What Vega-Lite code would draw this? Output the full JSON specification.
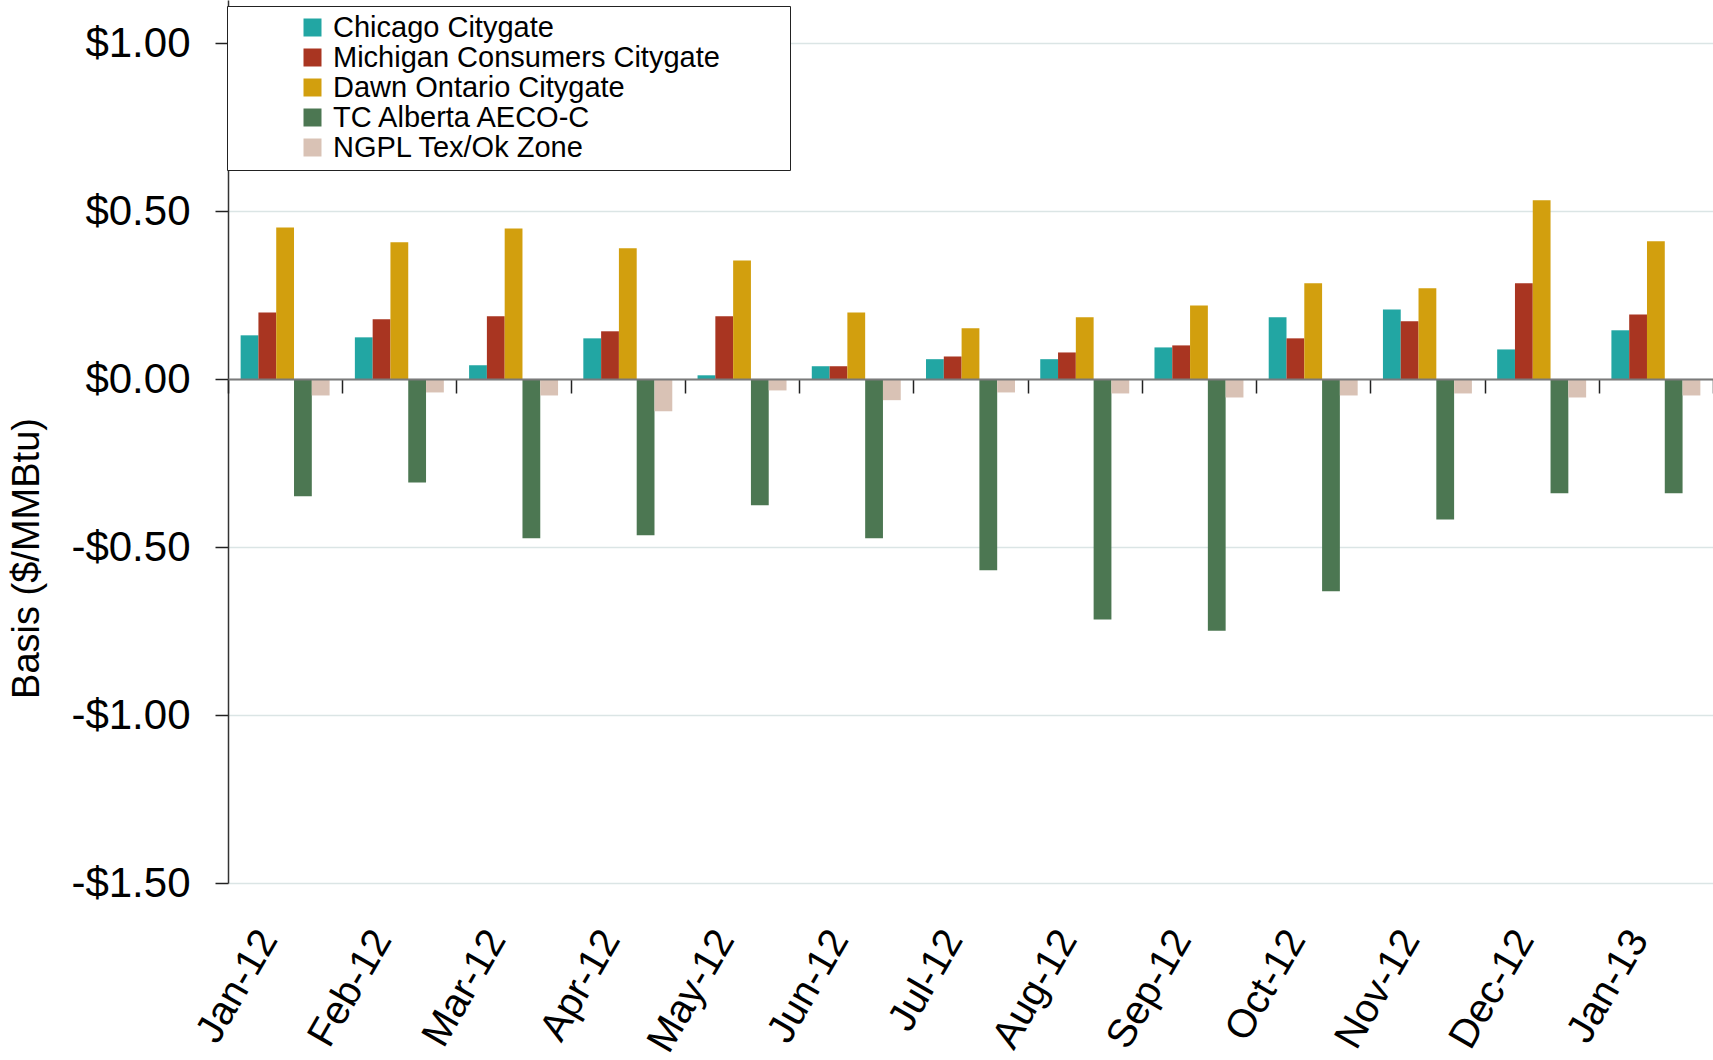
{
  "$schema": "https://vega.github.io/schema/vega-lite/v6.json",
  "autosize": {"type": "none"},
  "width": 1485,
  "height": 883,
  "padding": {"left": 228, "top": 0, "right": 0, "bottom": 177},
  "background": "white",
  "config": {"view": {"stroke": null}, "font": "Liberation Sans"},
  "data": {
    "values": [
      {"month": "Jan-12", "series": "Chicago Citygate", "value": 0.130},
      {"month": "Jan-12", "series": "Michigan Consumers Citygate", "value": 0.198},
      {"month": "Jan-12", "series": "Dawn Ontario Citygate", "value": 0.451},
      {"month": "Jan-12", "series": "TC Alberta AECO-C", "value": -0.349},
      {"month": "Jan-12", "series": "NGPL Tex/Ok Zone", "value": -0.049},
      {"month": "Feb-12", "series": "Chicago Citygate", "value": 0.124},
      {"month": "Feb-12", "series": "Michigan Consumers Citygate", "value": 0.178},
      {"month": "Feb-12", "series": "Dawn Ontario Citygate", "value": 0.407},
      {"month": "Feb-12", "series": "TC Alberta AECO-C", "value": -0.308},
      {"month": "Feb-12", "series": "NGPL Tex/Ok Zone", "value": -0.040},
      {"month": "Mar-12", "series": "Chicago Citygate", "value": 0.041},
      {"month": "Mar-12", "series": "Michigan Consumers Citygate", "value": 0.187},
      {"month": "Mar-12", "series": "Dawn Ontario Citygate", "value": 0.448},
      {"month": "Mar-12", "series": "TC Alberta AECO-C", "value": -0.474},
      {"month": "Mar-12", "series": "NGPL Tex/Ok Zone", "value": -0.049},
      {"month": "Apr-12", "series": "Chicago Citygate", "value": 0.121},
      {"month": "Apr-12", "series": "Michigan Consumers Citygate", "value": 0.142},
      {"month": "Apr-12", "series": "Dawn Ontario Citygate", "value": 0.389},
      {"month": "Apr-12", "series": "TC Alberta AECO-C", "value": -0.465},
      {"month": "Apr-12", "series": "NGPL Tex/Ok Zone", "value": -0.096},
      {"month": "May-12", "series": "Chicago Citygate", "value": 0.011},
      {"month": "May-12", "series": "Michigan Consumers Citygate", "value": 0.187},
      {"month": "May-12", "series": "Dawn Ontario Citygate", "value": 0.353},
      {"month": "May-12", "series": "TC Alberta AECO-C", "value": -0.376},
      {"month": "May-12", "series": "NGPL Tex/Ok Zone", "value": -0.034},
      {"month": "Jun-12", "series": "Chicago Citygate", "value": 0.038},
      {"month": "Jun-12", "series": "Michigan Consumers Citygate", "value": 0.038},
      {"month": "Jun-12", "series": "Dawn Ontario Citygate", "value": 0.198},
      {"month": "Jun-12", "series": "TC Alberta AECO-C", "value": -0.474},
      {"month": "Jun-12", "series": "NGPL Tex/Ok Zone", "value": -0.063},
      {"month": "Jul-12", "series": "Chicago Citygate", "value": 0.059},
      {"month": "Jul-12", "series": "Michigan Consumers Citygate", "value": 0.067},
      {"month": "Jul-12", "series": "Dawn Ontario Citygate", "value": 0.151},
      {"month": "Jul-12", "series": "TC Alberta AECO-C", "value": -0.569},
      {"month": "Jul-12", "series": "NGPL Tex/Ok Zone", "value": -0.040},
      {"month": "Aug-12", "series": "Chicago Citygate", "value": 0.059},
      {"month": "Aug-12", "series": "Michigan Consumers Citygate", "value": 0.079},
      {"month": "Aug-12", "series": "Dawn Ontario Citygate", "value": 0.184},
      {"month": "Aug-12", "series": "TC Alberta AECO-C", "value": -0.716},
      {"month": "Aug-12", "series": "NGPL Tex/Ok Zone", "value": -0.043},
      {"month": "Sep-12", "series": "Chicago Citygate", "value": 0.094},
      {"month": "Sep-12", "series": "Michigan Consumers Citygate", "value": 0.100},
      {"month": "Sep-12", "series": "Dawn Ontario Citygate", "value": 0.219},
      {"month": "Sep-12", "series": "TC Alberta AECO-C", "value": -0.749},
      {"month": "Sep-12", "series": "NGPL Tex/Ok Zone", "value": -0.055},
      {"month": "Oct-12", "series": "Chicago Citygate", "value": 0.184},
      {"month": "Oct-12", "series": "Michigan Consumers Citygate", "value": 0.121},
      {"month": "Oct-12", "series": "Dawn Ontario Citygate", "value": 0.285},
      {"month": "Oct-12", "series": "TC Alberta AECO-C", "value": -0.632},
      {"month": "Oct-12", "series": "NGPL Tex/Ok Zone", "value": -0.049},
      {"month": "Nov-12", "series": "Chicago Citygate", "value": 0.207},
      {"month": "Nov-12", "series": "Michigan Consumers Citygate", "value": 0.172},
      {"month": "Nov-12", "series": "Dawn Ontario Citygate", "value": 0.270},
      {"month": "Nov-12", "series": "TC Alberta AECO-C", "value": -0.418},
      {"month": "Nov-12", "series": "NGPL Tex/Ok Zone", "value": -0.043},
      {"month": "Dec-12", "series": "Chicago Citygate", "value": 0.088},
      {"month": "Dec-12", "series": "Michigan Consumers Citygate", "value": 0.285},
      {"month": "Dec-12", "series": "Dawn Ontario Citygate", "value": 0.532},
      {"month": "Dec-12", "series": "TC Alberta AECO-C", "value": -0.340},
      {"month": "Dec-12", "series": "NGPL Tex/Ok Zone", "value": -0.055},
      {"month": "Jan-13", "series": "Chicago Citygate", "value": 0.145},
      {"month": "Jan-13", "series": "Michigan Consumers Citygate", "value": 0.192},
      {"month": "Jan-13", "series": "Dawn Ontario Citygate", "value": 0.410},
      {"month": "Jan-13", "series": "TC Alberta AECO-C", "value": -0.340},
      {"month": "Jan-13", "series": "NGPL Tex/Ok Zone", "value": -0.049}
    ]
  },
  "resolve": {"axis": {"x": "independent"}},
  "layer": [
    {
      "mark": {"type": "bar"},
      "encoding": {
        "x": {
          "field": "month",
          "type": "ordinal",
          "sort": ["Jan-12","Feb-12","Mar-12","Apr-12","May-12","Jun-12","Jul-12","Aug-12","Sep-12","Oct-12","Nov-12","Dec-12","Jan-13"],
          "scale": {"paddingInner": 0, "paddingOuter": 0},
          "axis": {
            "title": null,
            "domain": false,
            "ticks": false,
            "labelAngle": -60,
            "labelAlign": "right",
            "labelBaseline": "middle",
            "labelPadding": 50,
            "labelOffset": -17,
            "labelFontSize": 40,
            "labelFont": "Liberation Sans",
            "labelColor": "#000000"
          }
        },
        "xOffset": {
          "field": "series",
          "type": "nominal",
          "sort": ["Chicago Citygate","Michigan Consumers Citygate","Dawn Ontario Citygate","TC Alberta AECO-C","NGPL Tex/Ok Zone"],
          "scale": {"paddingInner": 0, "paddingOuter": 0.71}
        },
        "y": {
          "field": "value",
          "type": "quantitative",
          "scale": {"domain": [-1.5, 1.128], "nice": false, "zero": false},
          "axis": {
            "title": "Basis ($/MMBtu)",
            "titleFont": "Liberation Sans",
            "titleFontSize": 38,
            "titleFontWeight": "normal",
            "titleColor": "#000000",
            "titleAngle": -90,
            "titleAlign": "center",
            "titleBaseline": "middle",
            "titleX": -201,
            "titleY": 558,
            "values": [-1.5, -1, -0.5, 0, 0.5, 1],
            "labelExpr": "(datum.value < 0 ? '-' : '') + '$' + format(abs(datum.value), '.2f')",
            "labelFont": "Liberation Sans",
            "labelFontSize": 42,
            "labelColor": "#000000",
            "labelPadding": 25,
            "tickSize": 13,
            "tickColor": "#222222",
            "tickWidth": 1.5,
            "domainColor": "#333333",
            "domainWidth": 1.5,
            "grid": true,
            "gridColor": "#dbe5e5",
            "gridWidth": 1.5
          }
        },
        "color": {
          "field": "series",
          "type": "nominal",
          "scale": {
            "domain": ["Chicago Citygate","Michigan Consumers Citygate","Dawn Ontario Citygate","TC Alberta AECO-C","NGPL Tex/Ok Zone"],
            "range": ["#22a6a3","#a93521","#d29f0e","#4c7752","#d9c2b5"]
          },
          "legend": {
            "title": null,
            "orient": "none",
            "legendX": -1,
            "legendY": 6,
            "direction": "vertical",
            "strokeColor": "#222222",
            "fillColor": "#ffffff",
            "padding": 7,
            "symbolType": "square",
            "symbolSize": 324,
            "symbolStrokeWidth": 0,
            "symbolOffset": 64,
            "labelOffset": 6,
            "labelFont": "Liberation Sans",
            "labelFontSize": 29,
            "labelColor": "#000000",
            "labelLimit": 900,
            "rowPadding": -2,
            "labelExpr": "datum.label + '\u2800\u2800\u2800'",
            "zindex": 2
          }
        }
      }
    },
    {
      "mark": {"type": "tick", "opacity": 0},
      "encoding": {
        "x": {
          "field": "month",
          "type": "ordinal",
          "sort": ["Jan-12","Feb-12","Mar-12","Apr-12","May-12","Jun-12","Jul-12","Aug-12","Sep-12","Oct-12","Nov-12","Dec-12","Jan-13"],
          "axis": {
            "title": null,
            "orient": "bottom",
            "offset": -504,
            "labels": false,
            "grid": false,
            "domain": true,
            "domainColor": "#7a7a7a",
            "domainWidth": 2,
            "ticks": true,
            "tickBand": "extent",
            "tickColor": "#222222",
            "tickWidth": 1.5,
            "tickSize": 14,
            "zindex": 1
          }
        },
        "y": {"datum": 0}
      }
    }
  ]
}
